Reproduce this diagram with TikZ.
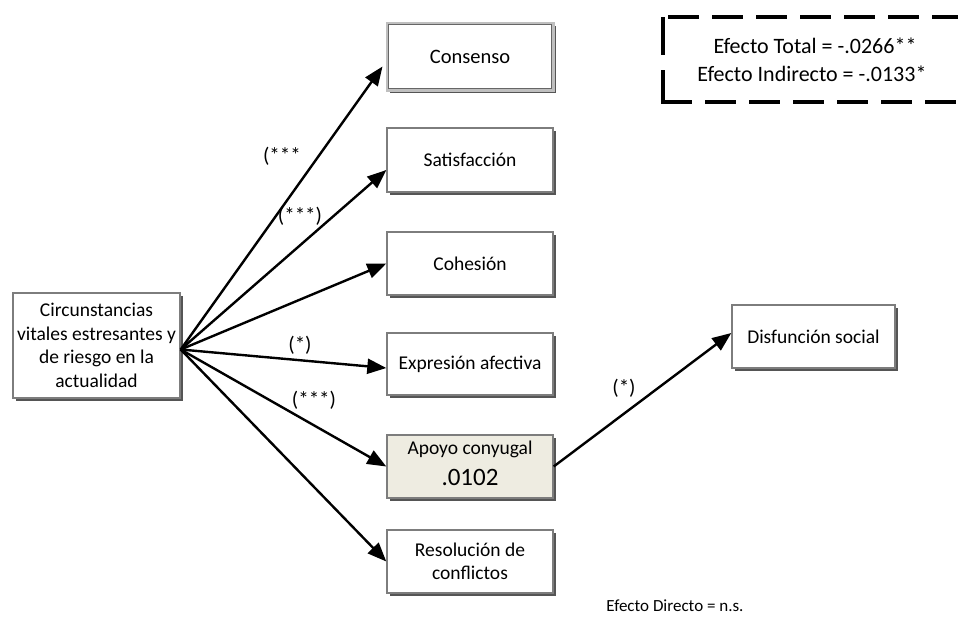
\documentclass[tikz,border=0pt]{standalone}
\usepackage{fontspec}
\setmainfont{Carlito}
\usetikzlibrary{arrows.meta,shadows,calc}
\definecolor{boxline}{RGB}{125,125,125}
\definecolor{shadowc}{RGB}{85,85,85}
\definecolor{beige}{RGB}{238,236,225}
\tikzset{
  vbox/.style={draw=boxline, line width=1.4pt, fill=white, minimum width=166pt, minimum height=63pt,
    align=center, inner sep=2pt, font=\fontsize{19.5}{23.5}\selectfont,
    drop shadow={shadow xshift=3pt, shadow yshift=-3pt, fill=shadowc, opacity=1}},
  arr/.style={line width=2.4pt, -{Triangle[length=19pt,width=15pt]}},
  lbl/.style={font=\fontsize{21}{24}\selectfont, inner sep=0pt},
  note/.style={font=\fontsize{22}{28}\selectfont, align=center, inner sep=0pt},
  dline/.style={line width=3.5pt, dash pattern=on 31pt off 13pt}
}
\begin{document}
\begin{tikzpicture}[x=1pt,y=-1pt]
\useasboundingbox[fill=white] (0,0) rectangle (958,621);
% nodes
\node[vbox, minimum width=167pt, minimum height=105pt] (circ) at (96.5,345.5)
  {Circunstancias\\vitales estresantes y\\de riesgo en la\\actualidad};
\node[vbox, draw=black!25, line width=3pt, minimum height=67pt, font=\fontsize{20.5}{24}\selectfont] (cons) at (470,56.5) {Consenso};
\draw[draw=black!60, line width=1.3pt] ($(cons.north west)+(3,3)$) rectangle ($(cons.south east)+(-3,-3)$);
\node[vbox, minimum height=64pt] (sat) at (470,160) {Satisfacción};
\node[vbox] (coh) at (470,263.5) {Cohesión};
\node[vbox, minimum height=62pt] (exp) at (470,364) {Expresión afectiva};
\node[vbox, fill=beige] (apo) at (470,466.5) {};
\node[font=\fontsize{19.5}{23}\selectfont, inner sep=0pt] (apot) at (470,449) {Apoyo conyugal};
\node[font=\fontsize{25}{28}\selectfont, inner sep=0pt] (apov) at (470,477) {.0102};
\node[vbox] (res) at (470,561.5) {Resolución de\\conflictos};
\node[vbox, minimum width=163pt] (dis) at (813.5,336.5) {Disfunción social};
% connectors
\coordinate (src) at ($(circ.east)+(0,4)$);
\coordinate (consin) at ($(cons.west)+(-3,10)$);
\coordinate (satin) at ($(sat.west)+(0,10)$);
\coordinate (expin) at ($(exp.west)+(0,4)$);
\coordinate (disin) at ($(dis.west)+(0,-3.5)$);
\draw[arr] (src) -- (consin);
\draw[arr] (src) -- (satin);
\draw[arr] (src) -- (coh.west);
\draw[arr] (src) -- (expin);
\draw[arr] (src) -- (apo.west);
\draw[arr] (src) -- (res.west);
\draw[arr] (apo.east) -- (disin);
% labels
\node[lbl] (l1) at (282,156) {(***};
\node[lbl] (l2) at (300,216) {(***)};
\node[lbl] (l3) at (300,345) {(*)};
\node[lbl] (l4) at (314,400) {(***)};
\node[lbl] (l5) at (624,388) {(*)};
% dashed note box
\coordinate (nb1) at (663,17);
\coordinate (nb2) at (663,55);
\coordinate (nb3) at (663,70);
\coordinate (nb4) at (663,102);
\coordinate (nb5) at (965,17);
\coordinate (nb6) at (965,102);
\draw[line width=3.5pt] (nb1) -- (nb2);
\draw[line width=3.5pt] (nb3) -- (nb4);
\draw[dline] ($(nb1)+(5,0)$) -- (nb5);
\draw[dline] ($(nb4)+(-1.75,0)$) -- (nb6);
\node[note] (tot) at (815,46) {Efecto Total = -.0266**};
\node[note] (ind) at (812,74) {Efecto Indirecto = -.0133*};
\node[font=\fontsize{17}{20}\selectfont, inner sep=0pt] (dir) at (675,606) {Efecto Directo = n.s.};
\end{tikzpicture}
\end{document}
